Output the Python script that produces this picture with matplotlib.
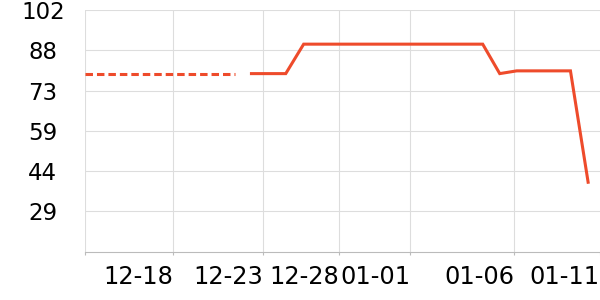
import matplotlib
matplotlib.use('Agg')
import matplotlib.pyplot as plt

# values, x = days counted from the left edge
dash_x = [0, 8.36]
dash_y = [79, 79]

solid_x = [9.2, 10.2, 11.2, 12.2, 13.2, 14.2, 15.2, 16.2, 17.2, 18.2,
           19.2, 20.2, 21.2, 22.2, 23.15, 24.1, 25.1, 26.1, 27.1, 28.1]
solid_y = [79, 79, 79, 89.7, 89.7, 89.7, 89.7, 89.7, 89.7, 89.7,
           89.7, 89.7, 89.7, 89.7, 79, 80, 80, 80, 80, 39]

tick_x = [0, 4.92, 9.91, 14.19, 18.16, 23.97, 28.74]
tick_labels = ['', '12-18', '12-23', '12-28', '01-01', '01-06', '01-11']

y_ticks = [102, 87.4, 72.8, 58.2, 43.6, 29.0]
y_labels = ['102', '88', '73', '59', '44', '29']

line_color = '#EE4B2B'
grid_color = '#dddddd'

fig = plt.figure(figsize=(6, 3), dpi=100)
ax = fig.add_axes([0.142, 0.159, 0.858, 0.8067])

# dashed part, then the solid line
ax.plot(dash_x, dash_y, color=line_color, lw=2.2, linestyle=(0, (2.45, 1.3)))
ax.plot(solid_x, solid_y, color=line_color, lw=2.2,
        solid_capstyle='butt', solid_joinstyle='miter')

ax.set_xlim(0, 28.75)
ax.set_ylim(14.1, 102)

ax.set_xticks(tick_x, tick_labels)
ax.set_yticks(y_ticks, y_labels)

ax.grid(True, color=grid_color, lw=0.8)
ax.set_axisbelow(True)
# last tick sits on the right edge, its grid line is cut off in the original
ax.get_xgridlines()[-1].set_visible(False)

for side in ['top', 'right', 'left']:
    ax.spines[side].set_visible(False)
ax.spines['bottom'].set_color('#bbbbbb')
ax.spines['bottom'].set_linewidth(0.8)

ax.tick_params(axis='x', length=2, color='#bbbbbb', pad=7, labelsize=17.3)
ax.tick_params(axis='y', length=0, pad=30.5, labelsize=16.5)

for lbl in ax.get_xticklabels():
    lbl.set_ha('right')
for lbl in ax.get_yticklabels():
    lbl.set_ha('center')

fig.savefig('out.png', dpi=100)
